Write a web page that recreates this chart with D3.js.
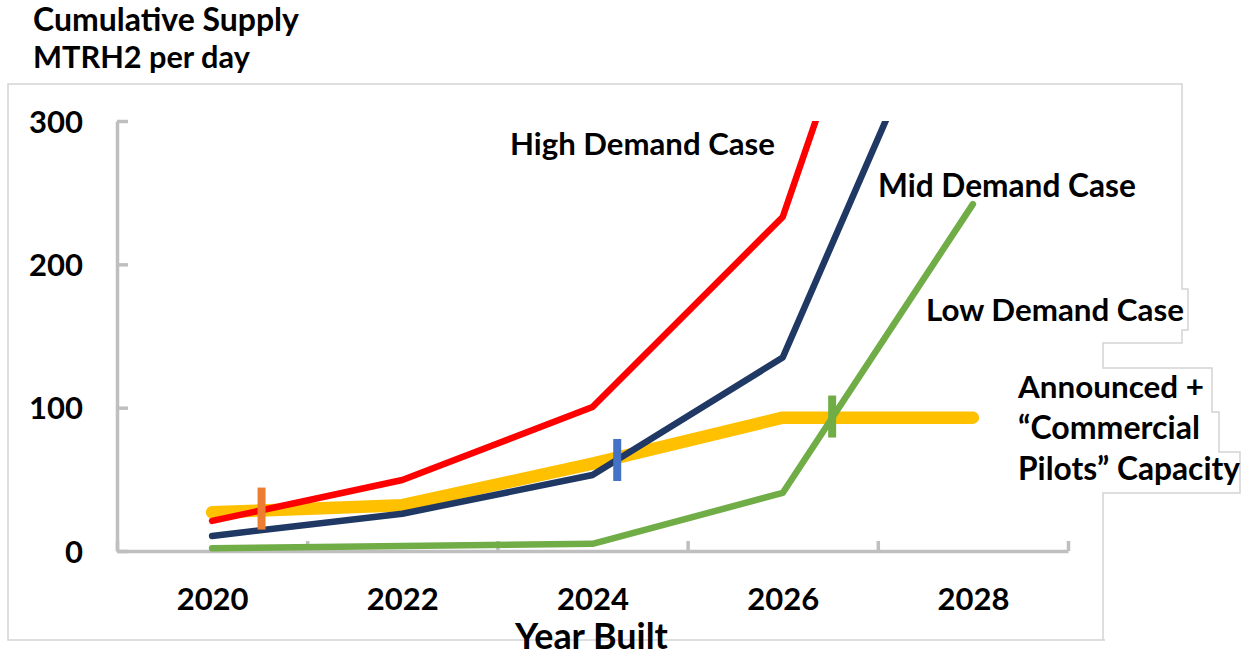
<!DOCTYPE html>
<html>
<head>
<meta charset="utf-8">
<script src="https://cdn.jsdelivr.net/npm/d3@7"></script>
<style>
  html, body { margin: 0; padding: 0; background: #ffffff; }
  svg { display: block; font-family: "Lato", "Liberation Sans", sans-serif; font-weight: bold; }
</style>
</head>
<body>
<svg id="chart" width="1246" height="657"></svg>
<script>
// ---------------- data ----------------
const years = [2020, 2022, 2024, 2026, 2028];
const highDemand = [21, 49.5, 100.5, 233, 620];
const midDemand = [10.5, 26, 53, 135, 440];
const lowDemand = [2, 3.5, 5, 40.5, 242];
const announcedCapacity = [27, 32, 61, 93, 93];
const yTickValues = [0, 100, 200, 300];
const xBoundaryYears = [2019, 2021, 2023, 2025, 2027, 2029];
const markerYears = [2020.52, 2024.26, 2026.52];
const markerValues = [29.6, 63.5, 93.8];

const titleLines = ["Cumulative Supply", "MTRH2 per day"];
const xAxisTitle = "Year Built";
const seriesLabels = ["High Demand Case", "Mid Demand Case", "Low Demand Case"];
const announcedLabel = ["Announced +", "\u201CCommercial", "Pilots\u201D Capacity"];

// ---------------- layout ----------------
const svg = d3.select("#chart");
const x = d3.scaleLinear().domain([2019, 2029]).range([117, 1068]);
const y = d3.scaleLinear().domain([0, 300]).range([551, 121]);
const axisColor = "#bfbfbf";
const frameColor = "#d3d3d3";

// frame outline (chart border + label text-box edges)
const framePts = [
  [1105, 640], [8, 640], [8, 84], [1182, 84], [1182, 289], [1188, 289], [1188, 330],
  [1182, 330], [1182, 343], [1103, 343], [1103, 368], [1212, 368], [1212, 412],
  [1219, 412], [1219, 452], [1240, 452], [1240, 493], [1103, 493], [1103, 640]
];
svg.append("path")
  .attr("d", d3.line()(framePts))
  .attr("fill", "none")
  .attr("stroke", frameColor)
  .attr("stroke-width", 1.5);

// axes
const yAxis = d3.axisLeft(y)
  .tickValues(yTickValues)
  .tickSizeInner(-11)
  .tickSizeOuter(0)
  .tickPadding(34)
  .tickFormat(d3.format("d"));
const gy = svg.append("g").attr("transform", "translate(117,0)").call(yAxis);
gy.select(".domain").attr("stroke", axisColor).attr("stroke-width", 3.5);
gy.selectAll(".tick line").attr("stroke", axisColor).attr("stroke-width", 3.5);
gy.selectAll(".tick text")
  .attr("fill", "#000")
  .attr("font-size", 31)
  .attr("font-family", "Lato, sans-serif")
  .attr("font-weight", "bold")
  .attr("dy", "0.36em");

const xAxisTicks = d3.axisBottom(x)
  .tickValues(xBoundaryYears)
  .tickSizeInner(-10)
  .tickSizeOuter(0)
  .tickFormat("");
const gx = svg.append("g").attr("transform", "translate(0,551)").call(xAxisTicks);
gx.select(".domain").attr("stroke", axisColor).attr("stroke-width", 3.5);
gx.selectAll(".tick line").attr("stroke", axisColor).attr("stroke-width", 3.5);

const xAxisLabels = d3.axisBottom(x)
  .tickValues(years)
  .tickSize(0)
  .tickPadding(59)
  .tickFormat(d3.format("d"));
const gxl = svg.append("g").attr("transform", "translate(0,551)").call(xAxisLabels);
gxl.select(".domain").remove();
gxl.selectAll(".tick text")
  .attr("fill", "#000")
  .attr("font-size", 31)
  .attr("font-family", "Lato, sans-serif")
  .attr("font-weight", "bold")
  .attr("dy", 0);

// clip for lines running off the top
svg.append("clipPath").attr("id", "plotClip")
  .append("rect").attr("x", 100).attr("y", y(300)).attr("width", 1000).attr("height", 460);

const line = d3.line()
  .x((d, i) => x(years[i]))
  .y(d => y(d));

const plot = svg.append("g").attr("clip-path", "url(#plotClip)");
const seriesDefs = [
  { values: announcedCapacity, color: "#ffc000", width: 12.5 },
  { values: lowDemand, color: "#70ad47", width: 6.5 },
  { values: midDemand, color: "#203864", width: 6.5 },
  { values: highDemand, color: "#ff0000", width: 6.5 }
];
seriesDefs.forEach(s => {
  plot.append("path")
    .attr("d", line(s.values))
    .attr("fill", "none")
    .attr("stroke", s.color)
    .attr("stroke-width", s.width)
    .attr("stroke-linejoin", "round")
    .attr("stroke-linecap", "round");
});

// crossover markers
const markerColors = ["#ed7d31", "#4472c4", "#70ad47"];
svg.append("g").selectAll("rect")
  .data(markerYears)
  .join("rect")
  .attr("x", (d) => x(d) - 4)
  .attr("y", (d, i) => y(markerValues[i]) - 21)
  .attr("width", 8)
  .attr("height", 42)
  .attr("fill", (d, i) => markerColors[i]);

// ---------------- text ----------------
function fitText(sel, targetWidth) {
  sel.attr("font-size", 100);
  const len = sel.node().getComputedTextLength();
  sel.attr("font-size", 100 * targetWidth / len);
}
function addText(str, left, baseline, width) {
  const t = svg.append("text")
    .attr("x", left)
    .attr("y", baseline)
    .attr("fill", "#000")
    .attr("font-family", "Lato, sans-serif")
    .attr("font-weight", "bold")
    .text(str);
  fitText(t, width);
  return t;
}

// title
addText(titleLines[0], 33, 31, 266);
addText(titleLines[1], 33, 68, 217);

// series labels
addText(seriesLabels[0], 510, 155, 265);
addText(seriesLabels[1], 878, 197, 258);
addText(seriesLabels[2], 926, 321, 258);

// announced label
addText(announcedLabel[0], 1018, 398, 186);
addText(announcedLabel[1], 1018, 439, 182);
addText(announcedLabel[2], 1018, 480, 222);

// x-axis title
addText(xAxisTitle, 515, 649, 153);
</script>
</body>
</html>
